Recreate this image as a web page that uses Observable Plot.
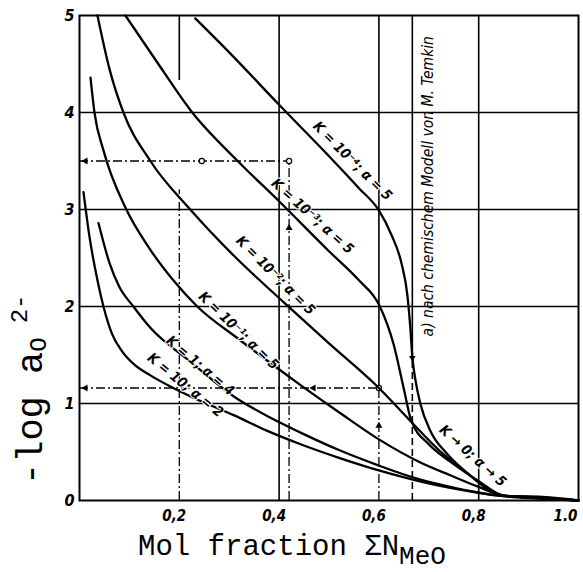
<!DOCTYPE html>
<html>
<head>
<meta charset="utf-8">
<script src="https://cdn.jsdelivr.net/npm/d3@7"></script>
<script src="https://cdn.jsdelivr.net/npm/@observablehq/plot@0.6"></script>
<style>
  html, body { margin: 0; padding: 0; background: #fff; }
  #chart svg { display: block; }
</style>
</head>
<body>
<div id="chart"></div>
<script>
// ---- data ----
// curves: [x = mole fraction ΣN_MeO, y = -log a(O2-)]
const curveK4 = [[0.232,4.97],[0.30,4.62],[0.40,4.08],[0.50,3.55],[0.56,3.22],[0.60,2.99],[0.625,2.74],[0.645,2.45],[0.657,2.12],[0.663,1.78],[0.667,1.48],[0.674,1.22],[0.683,1.00],[0.703,0.72],[0.737,0.48],[0.778,0.28],[0.83,0.08],[0.86,0.04],[0.92,0.02],[1.0,0.0]];
const curveK3 = [[0.092,5.0],[0.158,4.5],[0.226,4.0],[0.317,3.5],[0.403,3.07],[0.50,2.57],[0.56,2.27],[0.60,2.02],[0.63,1.60],[0.65,1.15],[0.665,0.82],[0.70,0.58],[0.743,0.40],[0.80,0.20],[0.85,0.05],[0.92,0.025],[1.0,0.0]];
const curveK2 = [[0.036,5.0],[0.06,4.45],[0.088,4.0],[0.142,3.5],[0.222,3.0],[0.31,2.52],[0.41,2.04],[0.50,1.62],[0.60,1.16],[0.663,0.82],[0.72,0.52],[0.78,0.27],[0.85,0.05],[0.92,0.03],[1.0,0.0]];
const curveK1 = [[0.022,4.36],[0.03,4.0],[0.048,3.61],[0.092,3.02],[0.14,2.6],[0.188,2.27],[0.236,2.0],[0.32,1.66],[0.403,1.34],[0.443,1.19],[0.52,0.91],[0.60,0.63],[0.68,0.40],[0.743,0.26],[0.80,0.14],[0.85,0.05],[0.92,0.03],[1.0,0.0]];
const curveK0 = [[0.038,2.86],[0.06,2.45],[0.08,2.2],[0.108,2.0],[0.142,1.78],[0.22,1.44],[0.31,1.07],[0.38,0.86],[0.443,0.70],[0.52,0.52],[0.60,0.36],[0.68,0.22],[0.743,0.14],[0.80,0.08],[0.85,0.045],[0.92,0.035],[1.0,0.0]];
const curveK10 = [[0.008,3.18],[0.02,2.72],[0.036,2.27],[0.048,2.0],[0.065,1.72],[0.085,1.54],[0.11,1.40],[0.142,1.29],[0.188,1.16],[0.228,1.06],[0.309,0.88],[0.38,0.71],[0.443,0.58],[0.52,0.44],[0.60,0.31],[0.68,0.20],[0.743,0.13],[0.80,0.08],[0.85,0.045],[0.92,0.04],[1.0,0.0]];

const curveLabels = ["K = 10⁻⁴; α = 5","K = 10⁻³; α = 5","K = 10⁻²; α = 5","K = 10⁻¹; α = 5","K = 1; α = 4","K = 10; α = 2","K → 0; α → 5"];
const labelX = [0.547,0.467,0.393,0.319,0.242,0.212,0.788];
const labelY = [3.50,2.93,2.32,1.75,1.39,1.19,0.46];
const labelAngle = [45,42,45,44,40,39,42];

const temkinLabel = "a) nach chemischem Modell von M. Temkin";

const xTicks = [0.2,0.4,0.6,0.8,1.0];
const xTickLabels = ["0,2","0,4","0,6","0,8","1.0"];
const yTicks = [0,1,2,3,4,5];
const yTickLabels = ["0","1","2","3","4","5"];

// construction (read-off) lines
const readY1 = 3.5, readX1 = 0.42;
const readY2 = 1.16, readX2 = 0.6;
const temkinX = 0.667;

// ---- chart ----
const series = [curveK4, curveK3, curveK2, curveK1, curveK0, curveK10];
const tidy = series.flatMap((pts, i) => pts.map(([x, y]) => ({x, y, s: i})));
const labels = curveLabels.map((t, i) => ({t, x: labelX[i], y: labelY[i], a: labelAngle[i]}));
const dashDot = "9,3,2,3";
const font = "'Liberation Sans Narrow', 'DejaVu Sans Condensed', sans-serif";

const plot = Plot.plot({
  width: 583, height: 572,
  marginLeft: 79, marginRight: 5, marginTop: 15, marginBottom: 72,
  x: {domain: [0, 1], axis: null},
  y: {domain: [0, 5], axis: null},
  style: {background: "#fff", color: "#000"},
  marks: [
    // grid
    Plot.ruleY([1, 2, 3, 4], {stroke: "#000", strokeWidth: 1.6}),
    Plot.ruleX([0.4, 0.8], {stroke: "#000", strokeWidth: 1.6}),
    Plot.ruleX([0.2], {y1: 4.33, y2: 5, stroke: "#000", strokeWidth: 1.6}),
    Plot.ruleX([0.2], {y1: 0, y2: 3.2, stroke: "#000", strokeWidth: 1.3, strokeDasharray: dashDot}),
    Plot.ruleX([readX2], {y1: readY2, y2: 5, stroke: "#000", strokeWidth: 1.6}),
    Plot.ruleX([readX2], {y1: 0, y2: readY2, stroke: "#000", strokeWidth: 1.3, strokeDasharray: dashDot}),
    // Temkin limit
    Plot.ruleX([temkinX], {y1: 1.5, y2: 5, stroke: "#000", strokeWidth: 1.6}),
    Plot.ruleX([temkinX], {y1: 0, y2: 1.5, stroke: "#000", strokeWidth: 1.6, strokeDasharray: "7,4"}),
    // construction (reading) lines
    Plot.ruleY([readY1], {x1: 0, x2: readX1, stroke: "#000", strokeWidth: 1.3, strokeDasharray: dashDot}),
    Plot.ruleX([readX1], {y1: 0, y2: readY1, stroke: "#000", strokeWidth: 1.3, strokeDasharray: dashDot}),
    Plot.ruleY([readY2], {x1: 0, x2: readX2, stroke: "#000", strokeWidth: 1.3, strokeDasharray: dashDot}),
    // arrows
    Plot.dot([[0.012, readY1], [0.012, readY2], [0.469, readY2]], {x: d => d[0], y: d => d[1], symbol: "triangle", r: 2.6, fill: "#000", stroke: "none", rotate: -90}),
    Plot.dot([[readX1, 2.81], [readX2, 0.77]], {x: d => d[0], y: d => d[1], symbol: "triangle", r: 2.6, fill: "#000", stroke: "none"}),
    Plot.dot([[temkinX, 1.47]], {x: d => d[0], y: d => d[1], symbol: "triangle", r: 2.4, fill: "#000", stroke: "none", rotate: 180}),
    Plot.dot([[0.245, readY1], [readX1, readY1], [readX2, readY2]], {x: d => d[0], y: d => d[1], r: 2.6, fill: "#fff", stroke: "#000", strokeWidth: 1.2}),
    // curves
    Plot.line(tidy, {x: "x", y: "y", z: "s", curve: "monotone-x", stroke: "#000", strokeWidth: 2.3}),
    // frame
    Plot.frame({stroke: "#000", strokeWidth: 2}),
    // curve labels
    Plot.text(labels, {x: "x", y: "y", text: "t", rotate: "a", fontSize: 14, fontStyle: "italic", fontWeight: "bold", fontFamily: font, fill: "#000", stroke: "#fff", strokeWidth: 2, paintOrder: "stroke"}),
    Plot.text([temkinLabel], {x: temkinX + 0.032, y: 3.24, text: d => d, rotate: -90, fontSize: 15.5, fontStyle: "italic", fontFamily: font, fill: "#000"}),
    // tick labels
    Plot.text(xTicks.slice(0, 4), {x: d => d, y: 0, text: (d, i) => xTickLabels[i], dy: 16, dx: -5, fontSize: 15, fontStyle: "italic", fontWeight: "bold", fontFamily: font, fill: "#000"}),
    Plot.text(xTicks.slice(4), {x: d => d, y: 0, text: (d, i) => xTickLabels[4 + i], dy: 16, dx: -1, textAnchor: "end", fontSize: 15, fontStyle: "italic", fontWeight: "bold", fontFamily: font, fill: "#000"}),
    Plot.text(yTicks, {x: 0, y: d => d, text: (d, i) => yTickLabels[i], dx: -5, textAnchor: "end", fontSize: 16, fontStyle: "italic", fontWeight: "bold", fontFamily: font, fill: "#000"})
  ]
});

document.getElementById("chart").appendChild(plot);

// axis titles with sub/superscripts
const svg = d3.select(plot);
const mono = "'Liberation Mono', 'DejaVu Sans Mono', monospace";
const xt = svg.append("text").attr("x", 138).attr("y", 555).attr("text-anchor", "start").attr("font-family", mono).attr("font-size", 29).attr("fill", "#000");
xt.append("tspan").text("Mol fraction ΣN");
xt.append("tspan").attr("dy", 9).attr("font-size", 26).text("MeO");

const yt = svg.append("text").attr("transform", "translate(42,485) rotate(-90)").attr("text-anchor", "start").attr("font-family", mono).attr("font-size", 37).attr("fill", "#000");
yt.append("tspan").text("-log a");
yt.append("tspan").attr("dy", 4).attr("font-size", 24).text("O");
yt.append("tspan").attr("dy", -19).attr("dx", 14).attr("font-size", 24).text("2-");
</script>
</body>
</html>
